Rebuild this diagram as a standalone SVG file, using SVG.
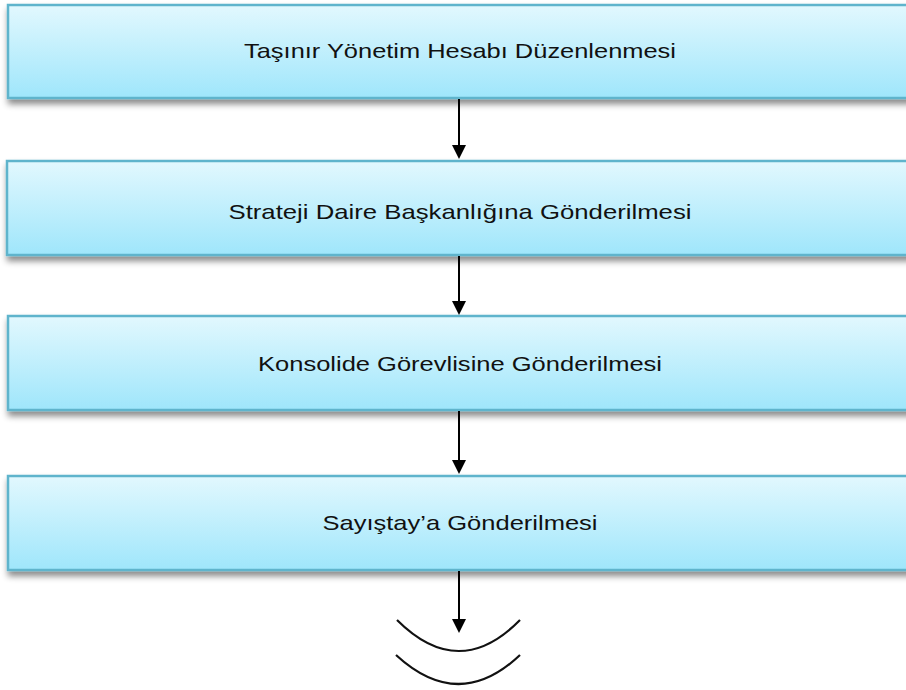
<svg xmlns="http://www.w3.org/2000/svg" width="906" height="690" viewBox="0 0 906 690">
<defs>
<linearGradient id="g" x1="0" y1="0" x2="0" y2="1">
<stop offset="0" stop-color="#e2f8fe"/>
<stop offset="1" stop-color="#9fe6fb"/>
</linearGradient>
<filter id="sh" x="-5%" y="-20%" width="110%" height="150%">
<feDropShadow dx="1" dy="5" stdDeviation="3" flood-color="#000" flood-opacity="0.45"/>
</filter>
</defs>
<style>
.box{fill:url(#g);stroke:#5fb4cc;stroke-width:2.5;filter:url(#sh)}
.lbl{font-family:"Liberation Sans",Arial,sans-serif;font-size:21px;fill:#111;text-anchor:middle}
.con{stroke:#000;stroke-width:2;fill:none}
.arc{stroke:#111;stroke-width:2.2;fill:none}
</style>
<rect width="906" height="690" fill="#fff"/>
<g id="node1">
<rect class="box" x="8" y="5" width="910" height="93"/>
<text class="lbl" x="460" y="58" textLength="432" lengthAdjust="spacingAndGlyphs">Taşınır Yönetim Hesabı Düzenlenmesi</text>
</g>
<g id="node2">
<rect class="box" x="7" y="161" width="910" height="94"/>
<text class="lbl" x="460" y="219" textLength="463" lengthAdjust="spacingAndGlyphs">Strateji Daire Başkanlığına Gönderilmesi</text>
</g>
<g id="node3">
<rect class="box" x="8" y="316" width="910" height="94"/>
<text class="lbl" x="460" y="371" textLength="404" lengthAdjust="spacingAndGlyphs">Konsolide Görevlisine Gönderilmesi</text>
</g>
<g id="node4">
<rect class="box" x="8" y="476" width="910" height="94"/>
<text class="lbl" x="460" y="530" textLength="275" lengthAdjust="spacingAndGlyphs">Sayıştay’a Gönderilmesi</text>
</g>
<g id="connectors">
<line class="con" x1="459" y1="99" x2="459" y2="146"/>
<path d="M452,145 L466,145 L459,159 Z"/>
<line class="con" x1="459" y1="256" x2="459" y2="302"/>
<path d="M452,301 L466,301 L459,315 Z"/>
<line class="con" x1="459" y1="411" x2="459" y2="461"/>
<path d="M452,460 L466,460 L459,474 Z"/>
<line class="con" x1="459" y1="571" x2="459" y2="620"/>
<path d="M452,619 L466,619 L459,633 Z"/>
<path class="arc" d="M397,620 Q459,682 520,620"/>
<path class="arc" d="M396,655 Q459,713 520,655"/>
</g>
</svg>
